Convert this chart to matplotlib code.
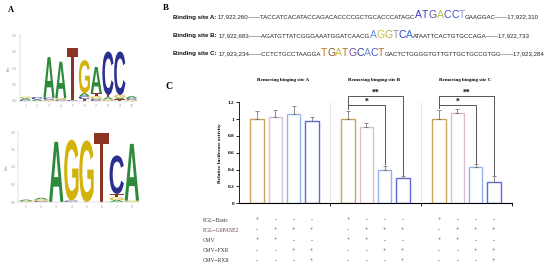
import numpy as np
import matplotlib
matplotlib.use('Agg')
import matplotlib.pyplot as plt
import matplotlib.transforms as mtransforms
from matplotlib.textpath import TextPath
from matplotlib.patches import PathPatch
from matplotlib.font_manager import FontProperties

W, H = 550, 268

# ---- panel A: sequence logos (bits per letter, bottom to top) ----
logo1_letters = [['C', 'A', 'G'], ['A', 'C'], ['G', 'C', 'A'], ['C', 'G', 'A'], ['C', 'T'],
                 ['T', 'C', 'A', 'G'], ['C', 'G', 'T', 'A'], ['G', 'A', 'T', 'C'],
                 ['T', 'A', 'G', 'C'], ['G', 'C', 'A']]
logo1_heights = [[0.04, 0.05, 0.04], [0.05, 0.07], [0.04, 0.06, 1.23], [0.04, 0.05, 1.1], [0.03, 1.57],
                 [0.06, 0.08, 0.1, 1.0], [0.06, 0.08, 0.1, 0.79], [0.05, 0.06, 0.07, 1.32],
                 [0.05, 0.05, 0.08, 1.32], [0.04, 0.05, 0.06]]
logo2_letters = [['G', 'A'], ['C', 'G', 'A'], ['A'], ['C', 'G'], ['G'], ['T'],
                 ['A', 'G', 'T', 'C'], ['G', 'A']]
logo2_heights = [[0.03, 0.04], [0.03, 0.04, 0.05], [1.72], [0.04, 1.74], [1.76], [1.98],
                 [0.06, 0.07, 0.1, 1.1], [0.04, 1.62]]

# ---- panel B: binding sites ----
site_names = ['Binding site A: ', 'Binding site B: ', 'Binding site C: ']
site_left = ['17,922,260\u2014\u2014TACCATCACATACCAGACACCCCGCTGCACCCATAGC',
             '17,922,683\u2014\u2014AGATGTTATCGGGAAATGGATCAACG',
             '17,923,234\u2014\u2014CCTCTGCCTAAGGA']
site_motif = ['ATGACCT', 'AGGTCA', 'TGATGCACT']
site_right = ['GAAGGAC\u2014\u201417,922,310',
              'ATAATTCACTGTGCCAGA\u2014\u201417,922,733',
              'GACTCTGGGGTGTTGTTGCTGCCGTGG\u2014\u201417,923,284']

# ---- panel C: luciferase assay ----
group_titles = ['Removing binging site A', 'Removing binging site B', 'Removing binging site C']
activity = [[1.00, 1.02, 1.06, 0.98],
            [1.00, 0.91, 0.40, 0.30],
            [1.00, 1.07, 0.43, 0.25]]
activity_err = [[0.10, 0.09, 0.10, 0.04],
                [0.10, 0.045, 0.045, 0.02],
                [0.11, 0.047, 0.033, 0.07]]
row_labels = ['PGL\u2212Basic', 'PGL\u2212G6PASE2', 'CMV', 'CMV\u2212FXR', 'CMV\u2212RXR']
row_signs = [['+', '-', '-', '-'],
             ['-', '+', '+', '+'],
             ['+', '+', '-', '-'],
             ['-', '-', '+', '+'],
             ['-', '-', '-', '+']]

base_colors = {'A': '#2d8a3a', 'C': '#2b2f8f', 'G': '#d4b20c', 'T': '#8c3424'}
bar_colors = ['#c9a55a', '#d9bfcf', '#8fb4f0', '#5a6ad8']
motif_colors = [['#3b3fcf', '#3440b8', '#5a4fc0', '#b9c23a', '#3a55d0', '#3a48c8', '#8a9ac0'],
                ['#5a8ee0', '#c9c13a', '#b9b040', '#8a94b8', '#2f3aa8', '#3a6fd8'],
                ['#b8741e', '#8a5a2a', '#d0b838', '#b8741e', '#7a48a8', '#3a3a90', '#6a8ad8',
                 '#4a5ad0', '#b8741e']]

SERIF = 'Liberation Serif'
SANS = 'Liberation Sans'


def fx(x):
    return x / W


def fy(y):
    return 1 - y / H


fig = plt.figure(figsize=(5.5, 2.68), dpi=100)
fig.patch.set_facecolor('white')

# ---------------- panel A ----------------
logo_fp = FontProperties(family=SANS, weight='bold')


def draw_letter(ax, ch, x, y0, h, color, w=0.95):
    tp = TextPath((0, 0), ch, size=1, prop=logo_fp)
    bb = tp.get_extents()
    tr = (mtransforms.Affine2D().translate(-bb.x0, -bb.y0)
          .scale(w / bb.width, h / bb.height).translate(x - w / 2, y0))
    ax.add_patch(PathPatch(tr.transform_path(tp), facecolor=color, edgecolor='none'))


def draw_logo(rect, letters, heights):
    ax = fig.add_axes(rect)
    n = len(letters)
    for i in range(n):
        y0 = 0
        for ch, h in zip(letters[i], heights[i]):
            draw_letter(ax, ch, i + 1, y0, h, base_colors[ch])
            y0 += h
    ax.set_xlim(0.5, n + 0.5)
    ax.set_ylim(0, 2)
    ax.set_xticks(range(1, n + 1))
    ax.set_yticks([0, 0.5, 1, 1.5, 2])
    ax.set_yticklabels(['0.0', '0.5', '1.0', '1.5', '2.0'])
    ax.tick_params(labelsize=2.2, colors='#999999', length=1, width=0.3, pad=1)
    for s in ['top', 'right']:
        ax.spines[s].set_visible(False)
    for s in ['left', 'bottom']:
        ax.spines[s].set_linewidth(0.3)
        ax.spines[s].set_color('#bbbbbb')
    ax.set_ylabel('Bits', fontsize=2.2, color='#888888', labelpad=1)
    return ax


draw_logo([fx(19.5), fy(101), fx(118), 66 / H], logo1_letters, logo1_heights)
draw_logo([fx(18.4), fy(202), fx(121), 70 / H], logo2_letters, logo2_heights)
fig.text(fx(8), fy(12), 'A', family=SERIF, weight='bold', fontsize=6)

# ---------------- panel B ----------------
fig.text(fx(163), fy(10), 'B', family=SERIF, weight='bold', fontsize=6.5)
renderer = fig.canvas.get_renderer()
baselines = [18.5, 37.5, 55.5]
for k in range(3):
    x = 173.0
    yb = fy(baselines[k])
    t = fig.text(fx(x), yb, site_names[k], family=SANS, weight='bold', fontsize=4.4,
                 va='baseline', color='#111111')
    x = t.get_window_extent(renderer).x1
    t = fig.text(x / W, yb, site_left[k], family=SANS, fontsize=4.4, va='baseline', color='#222222')
    x = t.get_window_extent(renderer).x1
    for ch, c in zip(site_motif[k], motif_colors[k]):
        t = fig.text(x / W, yb, ch, family=SANS, fontsize=7.5, va='baseline', color=c)
        x = t.get_window_extent(renderer).x1
    fig.text(x / W, yb, site_right[k], family=SANS, fontsize=4.4, va='baseline', color='#222222')

# ---------------- panel C ----------------
fig.text(fx(165), fy(89), 'C', family=SERIF, weight='bold', fontsize=7)
ax = fig.add_axes([fx(239), fy(203.3), fx(273), 101 / H])
n_groups = len(activity)
tr = mtransforms.blended_transform_factory(ax.transData, fig.transFigure)
row_y = [220, 230, 240.7, 251, 261]
for g in range(n_groups):
    xs = g * 5 + np.arange(1, 5)
    vals = np.array(activity[g])
    errs = np.array(activity_err[g])
    for j in range(4):
        ax.bar(xs[j], vals[j], width=0.75, facecolor='white', edgecolor=bar_colors[j],
               linewidth=1.0, zorder=2)
        ax.errorbar(xs[j], vals[j], yerr=[[0], [errs[j]]], fmt='none', ecolor='#777777',
                    elinewidth=0.6, capsize=1.2, capthick=0.6, zorder=3)
    ax.text(g * 5 + 2.4, 1.47, group_titles[g], family=SERIF, weight='bold', fontsize=3.6,
            ha='center', va='center')
    if g > 0:
        tops = vals + errs + 0.02
        for end, yl, star in [(3, 1.167, '*'), (4, 1.274, '**')]:
            x0, x1 = xs[0], xs[end - 1]
            ax.plot([x0, x0, x1, x1], [tops[0], yl, yl, tops[end - 1]], color='#555555',
                    lw=0.7, clip_on=False, zorder=4)
            ax.text((x0 + x1) / 2, yl - 0.005, star, ha='center', va='bottom', fontsize=5.5,
                    weight='bold', family=SERIF, clip_on=False)
    ax.axvline(g * 5 + 5, color='#e4e4e4', lw=0.6, zorder=1)
    # table of constructs
    for r, yp in enumerate(row_y):
        for j in range(4):
            ax.text(xs[j], fy(yp), row_signs[r][j], transform=tr, ha='center', va='center',
                    fontsize=4.2, family=SERIF, color='#333333')

for r, yp in enumerate(row_y):
    fig.text(fx(203), fy(yp), row_labels[r], ha='left', va='center', fontsize=4, family=SERIF,
             color='#6a3a3a' if r == 1 else '#333333')

ax.set_xlim(0, 15)
ax.set_ylim(0, 1.2)
ax.set_yticks([0, 0.2, 0.4, 0.6, 0.8, 1.0, 1.2])
ax.set_yticklabels(['0', '0.2', '0.4', '0.6', '0.8', '1', '1.2'], family=SERIF, weight='bold')
ax.set_xticks([5, 10, 15])
ax.set_xticklabels([])
ax.tick_params(labelsize=3.8, length=2, width=0.6, pad=1.5)
ax.spines['top'].set_visible(False)
ax.spines['right'].set_visible(False)
ax.spines['left'].set_linewidth(0.6)
ax.spines['bottom'].set_linewidth(0.8)
ax.set_ylabel('Relative luciferase activity', family=SERIF, weight='bold', fontsize=3.8, labelpad=4)

fig.savefig('out.png', dpi=100)
